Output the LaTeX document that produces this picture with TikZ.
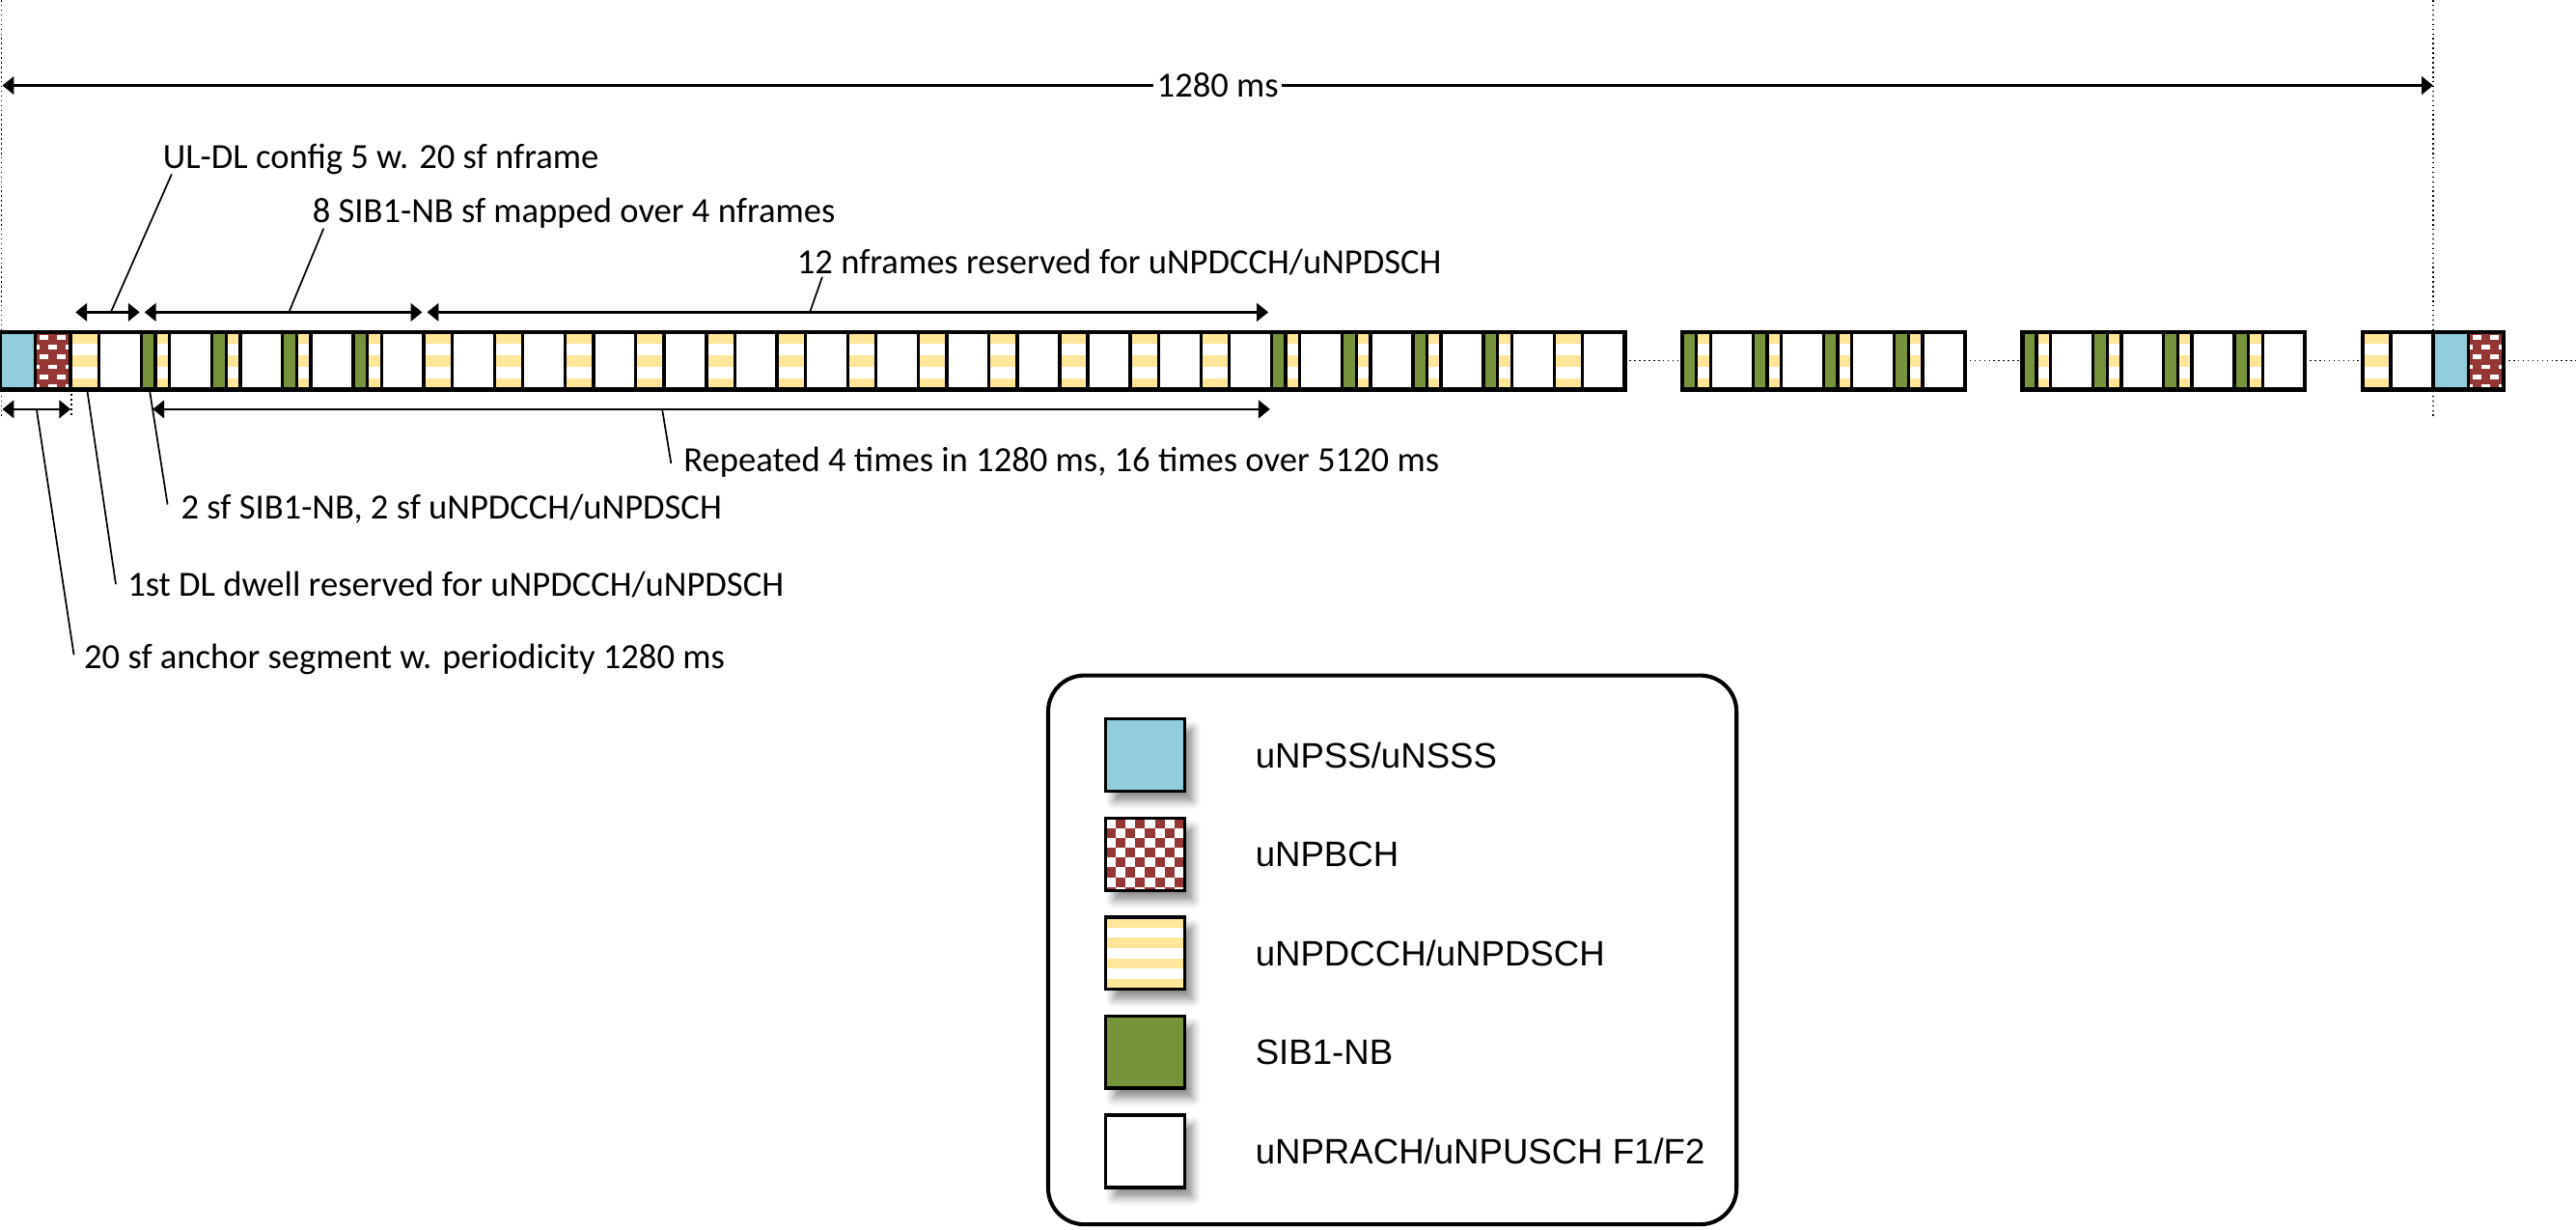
\documentclass[tikz,border=0pt]{standalone}
\usepackage{fontspec}
\setmainfont{Carlito}
\newfontfamily\legendfont{Liberation Sans}
\usetikzlibrary{arrows.meta,positioning,shadows.blur}

\definecolor{npss}{HTML}{92CDDC}
\definecolor{pbch}{HTML}{953735}
\definecolor{dlyel}{HTML}{FFE699}
\definecolor{sibgreen}{HTML}{77933C}

\newcommand{\nfw}{43} % one 20 sf nframe

\tikzset{
  sfcell/.style={draw=black, line width=2pt},
  % striped DL dwell, #1 = stripe height
  dlcell/.style={fill=dlyel, path picture={
      \foreach \k in {1,3,5}
        \fill[white] (path picture bounding box.north west) ++(0,{\k*#1}) rectangle ++(300,#1);}},
  dlcell/.default=7,
  pbchcell/.style={fill=pbch, path picture={
      \foreach \r in {0,...,5} \foreach \c in {-1,...,2}
        \fill[white] (path picture bounding box.north west)
          ++({\c*10.5+mod(\r,2)*5.25+2.5},{\r*6+1.8}) rectangle ++(5.5,2.8);}},
  pbchkey/.style={fill=pbch, path picture={
      \foreach \r in {0,...,7} \foreach \c in {0,2,4,6}
        \fill[white] (path picture bounding box.north west)
          ++({(\c+mod(\r,2))*6},{\r*6}) rectangle ++(6,6);}},
  % frames
  anchorfr/.pic={
    \path[sfcell, fill=npss] (0,0) rectangle (21.5,35);
    \path[sfcell, pbchcell] (21.5,0) rectangle (43,35);},
  dlfr/.pic={
    \path[sfcell, dlcell] (0,0) rectangle (17.2,35);
    \path[sfcell, fill=white] (17.2,0) rectangle (43,35);},
  sibfr/.pic={
    \path[sfcell, fill=sibgreen] (0,0) rectangle (8.6,35);
    \path[sfcell, dlcell] (8.6,0) rectangle (17.2,35);
    \path[sfcell, fill=white] (17.2,0) rectangle (43,35);},
}

\begin{document}
\begin{tikzpicture}[x=1pt, y=-1pt,
    dim/.style={{Triangle[length=7pt,width=11pt]}-{Triangle[length=7pt,width=11pt]}, line width=1.3pt},
    lead/.style={line width=1pt},
    dots/.style={dotted, line width=0.9pt},
    note/.style={font=\fontsize{21.5}{25}\selectfont, inner sep=0pt, anchor=base west},
    keybox/.style={draw, line width=2pt, minimum width=48pt, minimum height=44pt, inner sep=0pt,
      blur shadow={shadow xshift=5pt, shadow yshift=-6pt, shadow blur radius=5pt, shadow opacity=45}},
    keytxt/.style={font=\legendfont\fontsize{21.5}{25}\selectfont, inner sep=0pt, right=42pt of #1}]
  \useasboundingbox (0,0) rectangle (1568,748);

  % period markers
  \draw[dots] (0.8,0) -- (0.8,254);
  \draw[dots] (1481,0) -- (1481,255);
  \draw[dots] (43.5,237) -- (43.5,254);
  \coordinate (p0) at (1.5,52);
  \coordinate (p1) at (1481,52);
  \draw[dim] (p0) -- node[fill=white, inner sep=2pt, font=\fontsize{21.5}{25}\selectfont] (period) {1280 ms} (p1);

  % strip
  \draw[dots] (989,219.5) -- (1024,219.5);
  \draw[dots] (1196,219.5) -- (1231,219.5);
  \draw[dots] (1403,219.5) -- (1438,219.5);
  \draw[dots] (1524,219.5) -- (1568,219.5);
  \pic at (0,202) {anchorfr};
  \pic at (\nfw,202) {dlfr};
  \foreach \i in {2,3,4,5,18,19,20,21}
    \pic at ({\i*\nfw},202) {sibfr};
  \foreach \i in {6,...,17,22}
    \pic at ({\i*\nfw},202) {dlfr};
  \foreach \x in {1024,1231}
    \foreach \i in {0,...,3}
      \pic at ({\x+\i*\nfw},202) {sibfr};
  \pic at (1438,202) {dlfr};
  \pic at (1481,202) {anchorfr};
  \foreach \a/\b in {0/989, 1024/1196, 1231/1403, 1438/1524}
    \draw[line width=2.6pt] (\a,202) rectangle (\b,237);

  % dimension arrows
  \coordinate (u0) at (46,190);   \coordinate (u1) at (85,190);
  \coordinate (u2) at (88,190);   \coordinate (u3) at (257,190);
  \coordinate (u4) at (260,190);  \coordinate (u5) at (772,190);
  \coordinate (l0) at (1.5,249);  \coordinate (l1) at (43,249);
  \coordinate (l2) at (93,249);   \coordinate (l3) at (773,249);
  \draw[dim] (u0) -- coordinate[pos=0.55] (cfgpt) (u1);
  \draw[dim] (u2) -- coordinate[pos=0.52] (sibpt) (u3);
  \draw[dim] (u4) -- coordinate[pos=0.455] (resvpt) (u5);
  \draw[dim] (l0) -- coordinate[pos=0.5] (anchpt) (l1);
  \draw[dim] (l2) -- coordinate[pos=0.456] (reppt) (l3);
  \coordinate (dwellpt) at (53,237);
  \coordinate (sibdwpt) at (91,237);

  % notes
  \node[note] (cfg) at (99,102.5) {UL-DL config 5 w. 20 sf nframe};
  \node[note] (sibmap) at (190,135.5) {8 SIB1-NB sf mapped over 4 nframes};
  \node[note] (resv) at (485,166.5) {12 nframes reserved for uNPDCCH/uNPDSCH};
  \node[note] (rep) at (416,287) {Repeated 4 times in 1280 ms, 16 times over 5120 ms};
  \node[note] (sibdw) at (110,315.5) {2 sf SIB1-NB, 2 sf uNPDCCH/uNPDSCH};
  \node[note] (dwell) at (77.5,362.5) {1st DL dwell reserved for uNPDCCH/uNPDSCH};
  \node[note] (anch) at (51,407) {20 sf anchor segment w. periodicity 1280 ms};

  \draw[lead] (cfgpt) -- ([xshift=5.5pt,yshift=-3.5pt]cfg.base west);
  \draw[lead] (sibpt) -- ([xshift=7pt,yshift=-3.5pt]sibmap.base west);
  \draw[lead] (resvpt) -- ([xshift=15.5pt,yshift=-2pt]resv.base west);
  \draw[lead] (reppt) -- ([xshift=-7.5pt,yshift=5pt]rep.base west);
  \draw[lead] (sibdwpt) -- ([xshift=-8pt,yshift=8.5pt]sibdw.base west);
  \draw[lead] (dwellpt) -- ([xshift=-7pt,yshift=7pt]dwell.base west);
  \draw[lead] (anchpt) -- ([xshift=-6pt,yshift=8.5pt]anch.base west);

  % legend
  \node[draw, line width=2.4pt, rounded corners=22pt, minimum width=419pt, minimum height=334pt]
    (legend) at (847.5,578) {};
  \node[keybox, fill=npss] (k1) at (697,459.5) {};
  \node[keybox, pbchkey] (k2) at (697,519.8) {};
  \node[keybox, dlcell=6.29] (k3) at (697,580) {};
  \node[keybox, fill=sibgreen] (k4) at (697,640.2) {};
  \node[keybox, fill=white] (k5) at (697,700.5) {};
  \node[keytxt=k1] (t1) {uNPSS/uNSSS};
  \node[keytxt=k2] (t2) {uNPBCH};
  \node[keytxt=k3] (t3) {uNPDCCH/uNPDSCH};
  \node[keytxt=k4] (t4) {SIB1-NB};
  \node[keytxt=k5] (t5) {uNPRACH/uNPUSCH F1/F2};
\end{tikzpicture}
\end{document}
